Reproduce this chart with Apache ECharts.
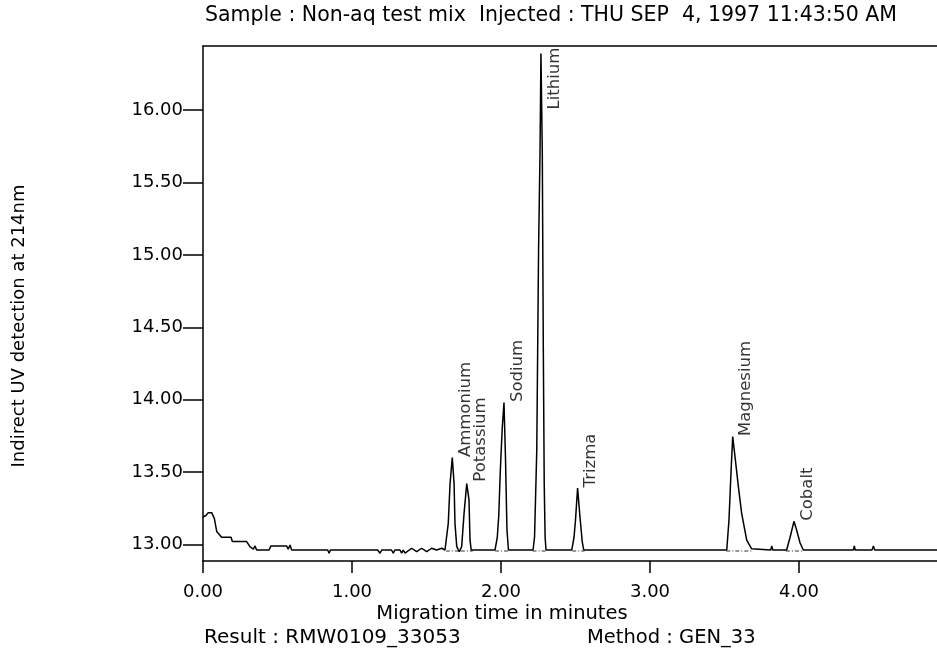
<!DOCTYPE html>
<html>
<head>
<meta charset="utf-8">
<script src="https://cdn.jsdelivr.net/npm/echarts@6/dist/echarts.min.js"></script>
<style>html,body{margin:0;padding:0;background:#fff;}#c{width:937px;height:649px;}</style>
</head>
<body>
<div id="c"></div>
<script>
// Electropherogram trace: migration time (min) and detector signal
const times = [0.00,0.02,0.035,0.058,0.076,0.092,0.103,0.125,0.188,0.197,0.293,0.315,0.338,0.349,0.36,0.443,0.456,0.561,0.572,0.584,0.595,0.837,0.846,0.855,1.172,1.188,1.200,1.265,1.277,1.288,1.322,1.333,1.344,1.356,1.367,1.400,1.434,1.467,1.501,1.535,1.568,1.602,1.624,
1.646,1.658,1.673,1.685,1.691,1.703,1.720,1.728,
1.736,1.752,1.770,1.774,1.785,1.792,1.800,1.960,
1.975,1.985,1.995,2.008,2.020,2.030,2.040,2.050,2.215,
2.225,2.240,2.252,2.262,2.268,2.277,2.284,2.290,2.296,2.302,2.475,
2.490,2.500,2.514,2.530,2.545,2.555,3.515,
3.530,3.544,3.555,3.570,3.593,3.615,3.649,3.682,3.690,3.810,3.817,3.824,3.917,
3.940,3.966,3.984,4.007,4.029,4.365,4.371,4.377,4.490,4.499,4.508,4.926];
const signal = [13.19,13.20,13.22,13.22,13.18,13.09,13.08,13.05,13.05,13.02,13.02,12.985,12.967,12.99,12.962,12.962,12.99,12.99,12.967,12.996,12.962,12.962,12.94,12.962,12.962,12.94,12.962,12.962,12.94,12.962,12.962,12.94,12.962,12.94,12.95,12.974,12.95,12.974,12.95,12.974,12.962,12.974,12.962,
13.146,13.42,13.60,13.42,13.146,12.985,12.95,12.962,
12.985,13.215,13.42,13.43,13.31,13.03,12.962,12.962,
13.05,13.2,13.5,13.8,13.98,13.6,13.1,12.962,12.962,
13.05,13.65,15.03,15.72,16.39,15.72,14.34,13.42,13.05,12.962,12.962,
13.05,13.17,13.39,13.19,13.02,12.962,12.962,
13.17,13.51,13.745,13.61,13.40,13.215,13.03,12.97,12.962,12.962,12.99,12.962,12.962,
13.05,13.16,13.10,13.01,12.962,12.962,12.99,12.962,12.962,12.99,12.962,12.962];

// Peak annotations (label anchor time / signal)
const peakNames = ["Ammonium","Potassium","Sodium","Lithium","Trizma","Magnesium","Cobalt"];
const peakTimes = [1.673,1.774,2.020,2.268,2.514,3.555,3.966];
const peakLabelSignal = [13.60,13.43,13.98,16.00,13.39,13.745,13.16];

// Integration baselines under each peak (start / end time, level)
const integStart = [1.630,1.730,1.960,2.212,2.478,3.512,3.912];
const integEnd   = [1.722,1.810,2.058,2.310,2.560,3.690,4.030];
const integLevel = 12.955;

// Axis ticks
const xTicks = [0,1,2,3,4];
const yTicks = [13.0,13.5,14.0,14.5,15.0,15.5,16.0];
const xMin = 0, xMax = 4.926, yMin = 12.886, yMax = 16.442;

const titleText = "Sample : Non-aq test mix  Injected : THU SEP  4, 1997 11:43:50 AM";
const yName = "Indirect UV detection at 214nm";
const xName = "Migration time in minutes";
const resultText = "Result : RMW0109_33053";
const methodText = "Method : GEN_33";

const FONT = "DejaVu Sans";
const chart = echarts.init(document.getElementById('c'), null, {renderer:'canvas'});
const traceData = times.map((t,i)=>[t, signal[i]]);
const labelData = peakNames.map((n,i)=>({name:n, value:[peakTimes[i], peakLabelSignal[i]]}));
const integData = [];
integStart.forEach((s,i)=>{ integData.push([s, integLevel], [integEnd[i], integLevel], [null, null]); });

chart.setOption({
  backgroundColor:'#fff',
  animation:false,
  grid:{left:203, top:46, right:0, bottom:88},
  xAxis:[{
    type:'value', min:xMin, max:xMax, position:'bottom',
    axisLine:{show:true, lineStyle:{color:'#000', width:1.5}},
    axisTick:{show:true, inside:false, length:12, customValues:xTicks, lineStyle:{color:'#000', width:1.5}},
    axisLabel:{show:true, margin:22, customValues:xTicks, color:'#000', fontFamily:FONT, fontSize:18,
      formatter:v=>v.toFixed(2)},
    splitLine:{show:false}
  },{
    type:'value', min:xMin, max:xMax, position:'top',
    axisLine:{show:true, lineStyle:{color:'#000', width:1.5}},
    axisTick:{show:false}, axisLabel:{show:false}, splitLine:{show:false}
  }],
  yAxis:{
    type:'value', min:yMin, max:yMax,
    axisLine:{show:true, lineStyle:{color:'#000', width:1.5}},
    axisTick:{show:true, inside:false, length:20, customValues:yTicks, lineStyle:{color:'#000', width:1.5}},
    axisLabel:{show:true, margin:20, customValues:yTicks, color:'#000', fontFamily:FONT, fontSize:18,
      formatter:v=>v.toFixed(2)},
    splitLine:{show:false}
  },
  series:[{
    type:'line', data:integData, symbol:'none', connectNulls:false,
    lineStyle:{color:'#333', width:1, type:[4,2,1,2]}, z:2
  },{
    type:'line', data:traceData, symbol:'none', smooth:false,
    lineStyle:{color:'#000', width:1.5}, z:3
  },{
    type:'scatter', data:labelData, symbolSize:1, itemStyle:{color:'transparent'},
    label:{show:true, formatter:p=>p.name, rotate:90, position:[14,0], align:'left', verticalAlign:'middle',
      color:'#000', fontFamily:FONT, fontSize:16.5}, z:4
  }],
  graphic:[
    {type:'text', x:205, y:16, style:{text:titleText, fill:'#000', font:'20.5px "'+FONT+'"', align:'left', verticalAlign:'middle'}},
    {type:'text', x:19, y:326, rotation:Math.PI/2, style:{text:yName, fill:'#000', font:'18px "'+FONT+'"', align:'center', verticalAlign:'middle'}},
    {type:'text', x:502, y:614, style:{text:xName, fill:'#000', font:'19.5px "'+FONT+'"', align:'center', verticalAlign:'middle'}},
    {type:'text', x:204, y:638, style:{text:resultText, fill:'#000', font:'20px "'+FONT+'"', align:'left', verticalAlign:'middle'}},
    {type:'text', x:587, y:638, style:{text:methodText, fill:'#000', font:'19.5px "'+FONT+'"', align:'left', verticalAlign:'middle'}}
  ]
});
</script>
</body>
</html>
